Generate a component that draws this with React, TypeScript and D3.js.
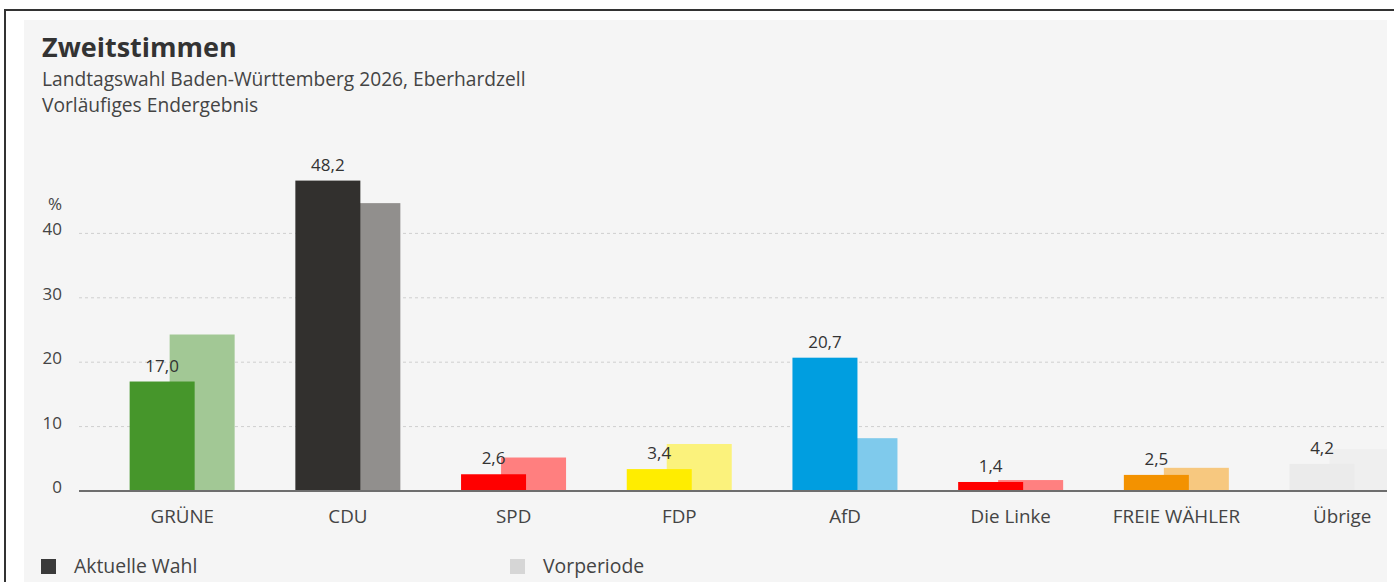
import { useRef, useEffect } from 'react';
import * as d3 from 'd3';

// Zweitstimmen, Eberhardzell – current vs. previous period
const parties = ['GRÜNE', 'CDU', 'SPD', 'FDP', 'AfD', 'Die Linke', 'FREIE WÄHLER', 'Übrige'];
const current = [17.0, 48.2, 2.6, 3.4, 20.7, 1.4, 2.5, 4.2];
const previous = [24.3, 44.7, 5.2, 7.3, 8.2, 1.7, 3.6, 6.5];
const currentColors = ['#46962b', '#32302e', '#ff0000', '#ffed00', '#009ee0', '#ff0000', '#f39200', '#ebebeb'];
const previousColors = ['#a2c895', '#918f8d', '#ff7f7f', '#fbf27c', '#7fcaec', '#ff8080', '#f7c87f', '#efefef'];
const yTicks = [0, 10, 20, 30, 40];
const legendItems = [
  { label: 'Aktuelle Wahl', color: '#3a3a3a' },
  { label: 'Vorperiode', color: '#d6d6d6' },
];

const FONT = '"Open Sans", "Noto Sans", sans-serif';
const W = 1394;
const H = 582;

export default function App() {
  const svgRef = useRef<SVGSVGElement | null>(null);

  useEffect(() => {
    if (!svgRef.current) return;
    const svg = d3.select(svgRef.current);
    svg.selectAll('*').remove();

    const de = d3.formatLocale({ decimal: ',', thousands: '.', grouping: [3], currency: ['', '€'] });
    const fmt = de.format('.1f');

    const panel = { left: 24, top: 20, right: 1387 };
    const axisLeft = 79;
    const y = d3.scaleLinear().domain([0, 50]).range([491, 169]);
    const x = d3.scaleBand<string>().domain(parties).range([99.4, 99.4 + 8 * 165.7]);
    const barW = 65;

    // page frame + grey panel
    svg.append('rect').attr('width', W).attr('height', H).attr('fill', '#fff');
    svg.append('rect')
      .attr('x', 5).attr('y', 10).attr('width', W + 20).attr('height', H + 20)
      .attr('fill', 'none').attr('stroke', '#333').attr('stroke-width', 2);
    svg.append('rect')
      .attr('x', panel.left).attr('y', panel.top)
      .attr('width', panel.right - panel.left).attr('height', H)
      .attr('fill', '#f5f5f5');

    svg.append('clipPath').attr('id', 'panel-clip')
      .append('rect')
      .attr('x', panel.left).attr('y', panel.top)
      .attr('width', panel.right - panel.left).attr('height', H);

    const g = svg.append('g').attr('clip-path', 'url(#panel-clip)');

    // headings
    g.append('text').attr('x', 42).attr('y', 57)
      .attr('font-size', 27).attr('font-weight', 700).attr('fill', '#333')
      .text('Zweitstimmen');
    g.append('text').attr('x', 42).attr('y', 86)
      .attr('font-size', 19.2).attr('fill', '#444')
      .text('Landtagswahl Baden-Württemberg 2026, Eberhardzell');
    g.append('text').attr('x', 42).attr('y', 112)
      .attr('font-size', 19.2).attr('fill', '#444')
      .text('Vorläufiges Endergebnis');

    // grid
    g.append('g')
      .selectAll('line')
      .data(yTicks.filter((t) => t > 0))
      .join('line')
      .attr('x1', axisLeft).attr('x2', panel.right)
      .attr('y1', (d) => y(d)).attr('y2', (d) => y(d))
      .attr('stroke', '#cfcfcf').attr('stroke-width', 1).attr('stroke-dasharray', '3,3');

    // y labels
    g.append('g')
      .selectAll('text')
      .data(yTicks)
      .join('text')
      .attr('x', 62).attr('y', (d) => y(d) + 2)
      .attr('text-anchor', 'end').attr('font-size', 17).attr('fill', '#444')
      .text((d) => d);
    g.append('text').attr('x', 62).attr('y', y(40) - 23)
      .attr('text-anchor', 'end').attr('font-size', 17).attr('fill', '#444')
      .text('%');

    const center = (p: string) => (x(p) ?? 0) + x.bandwidth() / 2;

    // previous period bars (behind)
    g.append('g')
      .selectAll('rect')
      .data(parties)
      .join('rect')
      .attr('x', (p) => center(p) - 12.6)
      .attr('width', barW)
      .attr('y', (_, i) => y(previous[i]))
      .attr('height', (_, i) => y(0) - y(previous[i]))
      .attr('fill', (_, i) => previousColors[i]);

    // current bars
    g.append('g')
      .selectAll('rect')
      .data(parties)
      .join('rect')
      .attr('x', (p) => center(p) - 52.6)
      .attr('width', barW)
      .attr('y', (_, i) => y(current[i]))
      .attr('height', (_, i) => y(0) - y(current[i]))
      .attr('fill', (_, i) => currentColors[i]);

    // value labels
    g.append('g')
      .selectAll('text')
      .data(parties)
      .join('text')
      .attr('x', (p) => center(p) - 20.1)
      .attr('y', (_, i) => y(current[i]) - 10)
      .attr('text-anchor', 'middle').attr('font-size', 17).attr('fill', '#333')
      .text((_, i) => fmt(current[i]));

    // baseline
    g.append('line')
      .attr('x1', axisLeft).attr('x2', panel.right)
      .attr('y1', y(0)).attr('y2', y(0))
      .attr('stroke', '#6e6e6e').attr('stroke-width', 2);

    // category labels
    g.append('g')
      .selectAll('text')
      .data(parties)
      .join('text')
      .attr('x', (p) => center(p))
      .attr('y', 523)
      .attr('text-anchor', 'middle').attr('font-size', 18.8).attr('fill', '#444')
      .text((p) => p);

    // legend
    const lg = g.append('g')
      .selectAll('g')
      .data(legendItems)
      .join('g')
      .attr('transform', (_, i) => `translate(${i === 0 ? 41 : 510},559)`);
    lg.append('rect').attr('width', 15).attr('height', 15).attr('fill', (d) => d.color);
    lg.append('text').attr('x', 33).attr('y', 14)
      .attr('font-size', 19.4).attr('fill', '#444')
      .text((d) => d.label);
  }, []);

  return (
    <div style={{ position: 'fixed', left: 0, top: 0, width: W, height: H, overflow: 'hidden', background: '#fff' }}>
      <svg ref={svgRef} width={W} height={H} style={{ display: 'block', fontFamily: FONT }} />
    </div>
  );
}
